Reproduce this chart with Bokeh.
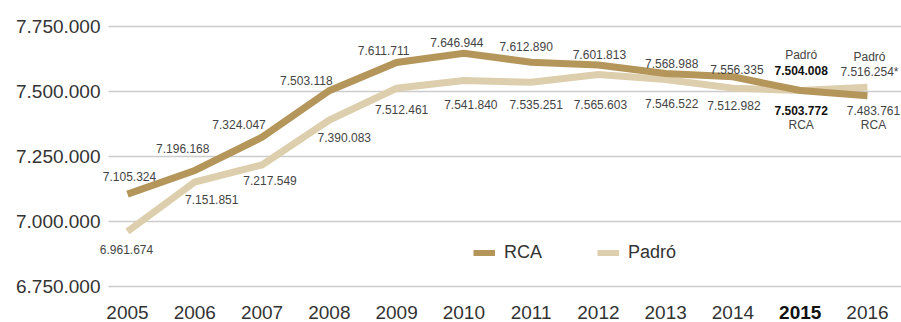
from bokeh.plotting import figure
from bokeh.models import ColumnDataSource, Range1d, Legend, LegendItem
from bokeh.core.properties import value
from bokeh.embed import file_html
from bokeh.resources import INLINE

# ---------------- data ----------------
years = [2005, 2006, 2007, 2008, 2009, 2010, 2011, 2012, 2013, 2014, 2015, 2016]
rca = [7105324, 7196168, 7324047, 7503118, 7611711, 7646944,
       7612890, 7601813, 7568988, 7556335, 7503772, 7483761]
padro = [6961674, 7151851, 7217549, 7390083, 7512461, 7541840,
         7535251, 7565603, 7546522, 7512982, 7504008, 7516254]
padro_note = ["", "", "", "", "", "", "", "", "", "", "", "*"]
named_years = [2015, 2016]      # value labels that carry the series name
highlight_year = 2015
y_ticks = [6750000, 7000000, 7250000, 7500000, 7750000]
series_names = ["RCA", "Padró"]

# ---------------- style / layout ----------------
FONT = "Liberation Sans"
C_RCA = "#b4955a"
C_PAD = "#ddcfad"
C_TXT = "#444444"
W, H = 901, 322
X_START, X_END = 2003.1121, 2016.5059
Y_START, Y_END = 6611538, 7850000
GRID_LEFT_PX = 108          # gridlines start here (pixels from left)

# hand-tuned pixel nudges of the value labels (upper / lower label per year)
up_dx = [2, -12, -23, -23, -13, -7, -5, 1, 6, 4, 1, 2]
up_dy = [-18, -22, -13, -10, -12, -11, -16, -11, -10, -7, -20, -15]
lo_dx = [-1, 17, 8, 15, 5, 7, 5, 2, 6, 1, 1, 6]
lo_dy = [18, 17, 16, 17, 21, 24, 22, 30, 24, 17, 20, 15]


def fmt(v):
    return f"{v:,}".replace(",", ".")


p = figure(width=W, height=H, output_backend="svg", toolbar_location=None,
           x_range=Range1d(X_START, X_END), y_range=Range1d(Y_START, Y_END),
           min_border=0, x_axis_type=None, y_axis_type=None)
p.outline_line_color = None
p.background_fill_color = "white"
p.border_fill_color = "white"
p.xgrid.grid_line_color = None
p.ygrid.grid_line_color = None

grid_left = X_START + GRID_LEFT_PX * (X_END - X_START) / W

# gridlines
gsrc = ColumnDataSource(dict(y=y_ticks, x0=[grid_left] * len(y_ticks),
                             x1=[X_END] * len(y_ticks),
                             text=[fmt(t) for t in y_ticks]))
p.segment("x0", "y", "x1", "y", source=gsrc, line_color="#cccccc", line_width=1.5)
# y tick labels
p.text("x0", "y", text="text", source=gsrc, x_offset=-8,
       text_align="right", text_baseline="middle",
       text_font=value(FONT), text_font_size="19px", text_color="#333333")

# lines
src = ColumnDataSource(dict(year=years, rca=rca, padro=padro))
r_pad = p.line("year", "padro", source=src, line_color=C_PAD, line_width=7,
               line_join="miter")
r_rca = p.line("year", "rca", source=src, line_color=C_RCA, line_width=7,
               line_join="miter")

# value labels
lx, ly, lt, ldx, ldy, lstyle, lcol = [], [], [], [], [], [], []
for i, yr in enumerate(years):
    vals = [(rca[i], series_names[0], ""), (padro[i], series_names[1], padro_note[i])]
    vals.sort(key=lambda t: -t[0])
    (hv, hn, hnote), (lv, ln, lnote) = vals
    bold = yr == highlight_year
    st = "bold" if bold else "normal"
    col = "#111111" if bold else C_TXT
    lx.append(yr); ly.append(hv); lt.append(fmt(hv) + hnote)
    ldx.append(up_dx[i]); ldy.append(up_dy[i]); lstyle.append(st); lcol.append(col)
    lx.append(yr); ly.append(lv); lt.append(fmt(lv) + lnote)
    ldx.append(lo_dx[i]); ldy.append(lo_dy[i]); lstyle.append(st); lcol.append(col)
    if yr in named_years:
        lx.append(yr); ly.append(hv); lt.append(hn)
        ldx.append(up_dx[i]); ldy.append(up_dy[i] - 15); lstyle.append("normal"); lcol.append(C_TXT)
        lx.append(yr); ly.append(lv); lt.append(ln)
        ldx.append(lo_dx[i]); ldy.append(lo_dy[i] + 14); lstyle.append("normal"); lcol.append(C_TXT)

lsrc = ColumnDataSource(dict(x=lx, y=ly, text=lt, dx=ldx, dy=ldy, st=lstyle, col=lcol))
p.text("x", "y", text="text", source=lsrc, x_offset="dx", y_offset="dy",
       text_align="center", text_baseline="middle",
       text_font=value(FONT), text_font_size="12px",
       text_font_style="st", text_color="col")

# x tick labels (drawn as text so 2015 can be bold)
xsrc = ColumnDataSource(dict(
    x=years, y=[y_ticks[0]] * len(years), text=[str(y) for y in years],
    st=["bold" if y == highlight_year else "normal" for y in years],
    col=["#111111" if y == highlight_year else "#333333" for y in years]))
p.text("x", "y", text="text", source=xsrc, y_offset=26,
       text_align="center", text_baseline="middle",
       text_font=value(FONT), text_font_size="19px",
       text_font_style="st", text_color="col")

# legend
legend = Legend(items=[LegendItem(label=series_names[0], renderers=[r_rca]),
                       LegendItem(label=series_names[1], renderers=[r_pad])],
                location=(473, 59), orientation="horizontal",
                padding=0, margin=0, spacing=55,
                glyph_width=22, glyph_height=6, label_standoff=9,
                label_text_font=FONT, label_text_font_size="18px",
                label_text_color="#333333",
                border_line_color=None, background_fill_alpha=0)
p.add_layout(legend, "center")

open("out.html", "w").write(file_html(p, INLINE))
